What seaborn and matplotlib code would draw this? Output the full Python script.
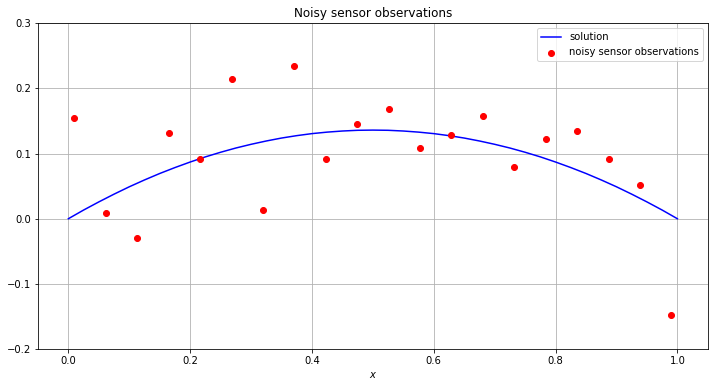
import numpy as np
import pandas as pd
import seaborn as sns
import matplotlib
matplotlib.use('Agg')
import matplotlib.pyplot as plt

# solution curve
x_sol = [0.0, 0.025, 0.05, 0.075, 0.1, 0.125, 0.15, 0.175, 0.2, 0.225, 0.25,
         0.275, 0.3, 0.325, 0.35, 0.375, 0.4, 0.425, 0.45, 0.475, 0.5,
         0.525, 0.55, 0.575, 0.6, 0.625, 0.65, 0.675, 0.7, 0.725, 0.75,
         0.775, 0.8, 0.825, 0.85, 0.875, 0.9, 0.925, 0.95, 0.975, 1.0]
y_sol = [0.0, 0.0133, 0.0258, 0.0377, 0.0490, 0.0595, 0.0694, 0.0785, 0.0870, 0.0949, 0.1020,
         0.1085, 0.1142, 0.1193, 0.1238, 0.1275, 0.1306, 0.1329, 0.1346, 0.1357, 0.1360,
         0.1357, 0.1346, 0.1329, 0.1306, 0.1275, 0.1238, 0.1193, 0.1142, 0.1085, 0.1020,
         0.0949, 0.0870, 0.0785, 0.0694, 0.0595, 0.0490, 0.0377, 0.0258, 0.0133, 0.0]

# noisy sensor observations
x_obs = [0.010, 0.062, 0.113, 0.165, 0.216, 0.268, 0.319, 0.371, 0.423, 0.474,
         0.526, 0.577, 0.629, 0.681, 0.732, 0.784, 0.835, 0.887, 0.938, 0.990]
y_obs = [0.155, 0.009, -0.029, 0.131, 0.091, 0.215, 0.014, 0.235, 0.091, 0.145,
         0.168, 0.108, 0.128, 0.158, 0.080, 0.123, 0.134, 0.092, 0.051, -0.148]

sol = pd.DataFrame({'x': x_sol, 'u': y_sol})
obs = pd.DataFrame({'x': x_obs, 'u': y_obs})

DPI = 72
fig, ax = plt.subplots(figsize=(715 / DPI, 387 / DPI), dpi=DPI)
fig.subplots_adjust(left=0.053, right=0.990, top=0.940, bottom=0.098)

sns.lineplot(data=sol, x='x', y='u', color='blue', linewidth=1.5, label='solution', ax=ax)
sns.scatterplot(data=obs, x='x', y='u', color='red', edgecolor='red', s=36, linewidth=1,
                label='noisy sensor observations', ax=ax, zorder=3)

ax.set_ylim(-0.2, 0.3)
ax.set_xlim(-0.05, 1.05)
ax.grid(True, color='#b0b0b0', linewidth=0.8)
ax.set_axisbelow(True)
ax.set_title('Noisy sensor observations')
ax.set_xlabel('$x$')
ax.set_ylabel('')
ax.legend(loc='upper right')

plt.savefig('out.png', dpi=DPI)
plt.close()
